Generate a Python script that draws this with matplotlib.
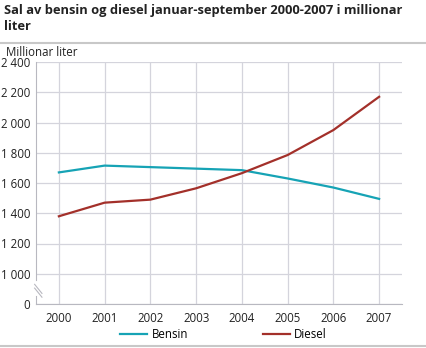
import matplotlib.pyplot as plt

years = [2000, 2001, 2002, 2003, 2004, 2005, 2006, 2007]
bensin = [1670, 1715, 1705, 1695, 1685, 1630, 1570, 1495]
diesel = [1380, 1470, 1490, 1565, 1665, 1785, 1950, 2170]
ytick_vals = [800, 1000, 1200, 1400, 1600, 1800, 2000, 2200, 2400]
ytick_labels = ["0", "1 000", "1 200", "1 400", "1 600", "1 800", "2 000", "2 200", "2 400"]

plt.rcParams['font.family'] = ['Open Sans', 'DejaVu Sans']
grid_col = '#d4d4dc'
axis_col = '#b8b8c0'

fig = plt.figure(figsize=(4.26, 3.48), dpi=100)
ax = fig.add_axes([36 / 426, 1 - 304 / 348, 366 / 426, 242 / 348])

ax.plot(years, bensin, color='#16a3b5', lw=1.6, label='Bensin')
ax.plot(years, diesel, color='#a3302a', lw=1.6, label='Diesel')

ax.set_xlim(1999.5, 2007.5)
ax.set_ylim(800, 2400)
ax.set_xticks(years)
ax.set_yticks(ytick_vals)
ax.set_yticklabels(ytick_labels)
ax.tick_params(length=0, labelsize=8.3, colors='#222222', pad=4)
ax.tick_params(axis='x', pad=6)
ax.grid(True, color=grid_col, lw=0.9)
ax.set_axisbelow(True)
for s in ['top', 'right']:
    ax.spines[s].set_visible(False)
ax.spines['bottom'].set_color(axis_col)
ax.spines['left'].set_color(axis_col)
ax.spines['left'].set_bounds(960, 2400)
# lower stub and break marks
ax.plot([1999.5, 1999.5], [800, 850], color=axis_col, lw=0.8, clip_on=False)
for dy in (0, 25):
    ax.plot([1999.47, 1999.63], [930 - dy, 870 - dy], color=axis_col, lw=0.8, clip_on=False)

fig.text(4 / 426, 1 - 4 / 348, "Sal av bensin og diesel januar-september 2000-2007 i millionar\nliter",
         fontsize=9.3, fontweight='bold', va='top', ha='left', linespacing=1.3, color='#222222')
fig.add_artist(plt.Line2D([0, 1], [1 - 43 / 348] * 2, color='#c8c8c8', lw=1.5))
fig.add_artist(plt.Line2D([0, 1], [1 - 346 / 348] * 2, color='#c8c8c8', lw=1.5))
fig.text(6 / 426, 1 - 52 / 348, "Millionar liter", fontsize=8.3, va='center', ha='left', color='#222222')

fig.legend(loc='center', bbox_to_anchor=(0.525, 1 - 335 / 348), ncol=2, frameon=False,
           fontsize=8.3, handlelength=2.3, columnspacing=6.5, handletextpad=0.4)

fig.savefig('out.png', dpi=100)
